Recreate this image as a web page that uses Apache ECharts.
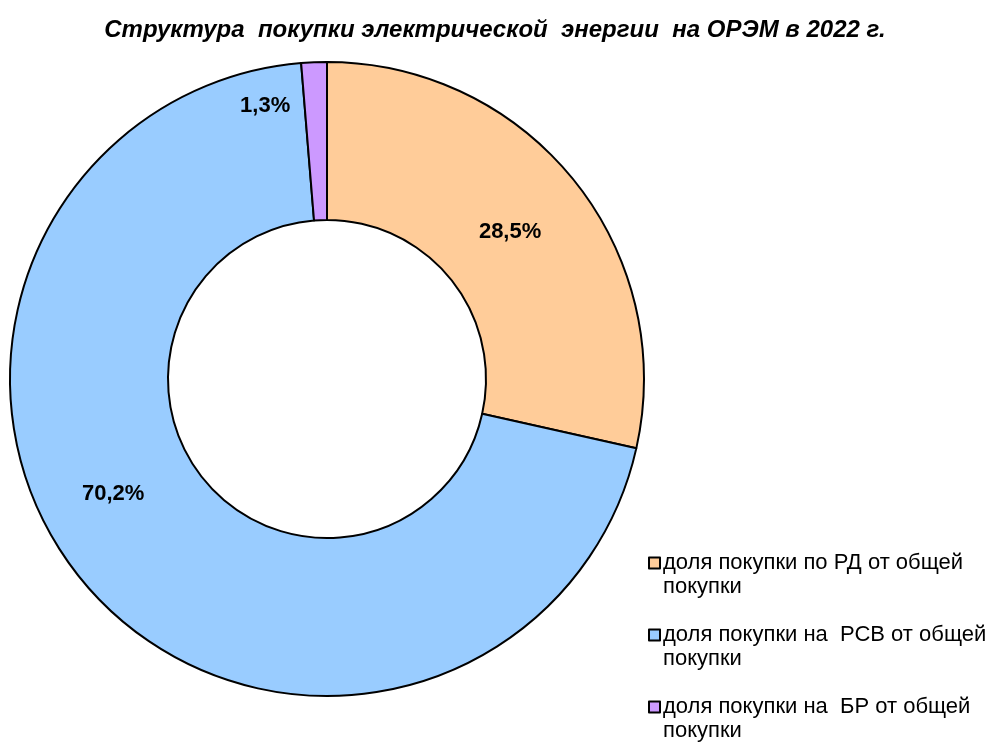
<!DOCTYPE html>
<html>
<head>
<meta charset="utf-8">
<script src="https://cdn.jsdelivr.net/npm/echarts@6/dist/echarts.min.js"></script>
<style>
  html, body { margin: 0; padding: 0; background: #fff; }
  #chart { width: 1000px; height: 744px; }
</style>
</head>
<body>
<div id="chart"></div>
<script>
// data
const categories = [
  'доля покупки по РД от общей покупки',
  'доля покупки на  РСВ от общей покупки',
  'доля покупки на  БР от общей покупки'
];
const shares = [28.5, 70.2, 1.3];
const colors = ['#FFCC99', '#99CCFF', '#CC99FF'];

// label nudges so the text sits where the original puts it
const labelOffsets = [[-5, 4], [-32, -43], [-52, -32]];

const chart = echarts.init(document.getElementById('chart'));

const pieData = categories.map((name, i) => ({
  name: name,
  value: shares[i],
  itemStyle: { color: colors[i] },
  label: { offset: labelOffsets[i] }
}));

const option = {
  animation: false,
  title: {
    text: 'Структура  покупки электрической  энергии  на ОРЭМ в 2022 г.',
    left: 490,
    textAlign: 'center',
    top: 13,
    textStyle: {
      fontFamily: '"Liberation Sans", Arial, sans-serif',
      fontSize: 24,
      fontWeight: 'bold',
      fontStyle: 'italic',
      color: '#000'
    }
  },
  legend: {
    orient: 'vertical',
    left: 648,
    top: 527,
    height: 300,
    padding: 0,
    itemWidth: 11,
    itemHeight: 11,
    itemGap: 0,
    icon: 'rect',
    itemStyle: { borderColor: '#000', borderWidth: 2 },
    // empty first line keeps the icon level with the first text line
    formatter: (name) => '\n' + name.replace(/общей /, 'общей\n'),
    textStyle: {
      fontFamily: '"Liberation Sans", Arial, sans-serif',
      fontSize: 22,
      lineHeight: 24,
      color: '#000',
      padding: [0, 0, 0, -2]
    }
  },
  series: [
    {
      type: 'pie',
      center: [327, 379],
      radius: [159, 317],
      startAngle: 90,
      clockwise: true,
      data: pieData,
      itemStyle: { borderColor: '#000', borderWidth: 2 },
      label: {
        show: true,
        position: 'inside',
        formatter: (p) => String(p.value).replace('.', ',') + '%',
        fontFamily: '"Liberation Sans", Arial, sans-serif',
        fontSize: 22,
        fontWeight: 'bold',
        color: '#000'
      },
      labelLine: { show: false },
      emphasis: { disabled: true }
    }
  ]
};
chart.setOption(option);
</script>
</body>
</html>
